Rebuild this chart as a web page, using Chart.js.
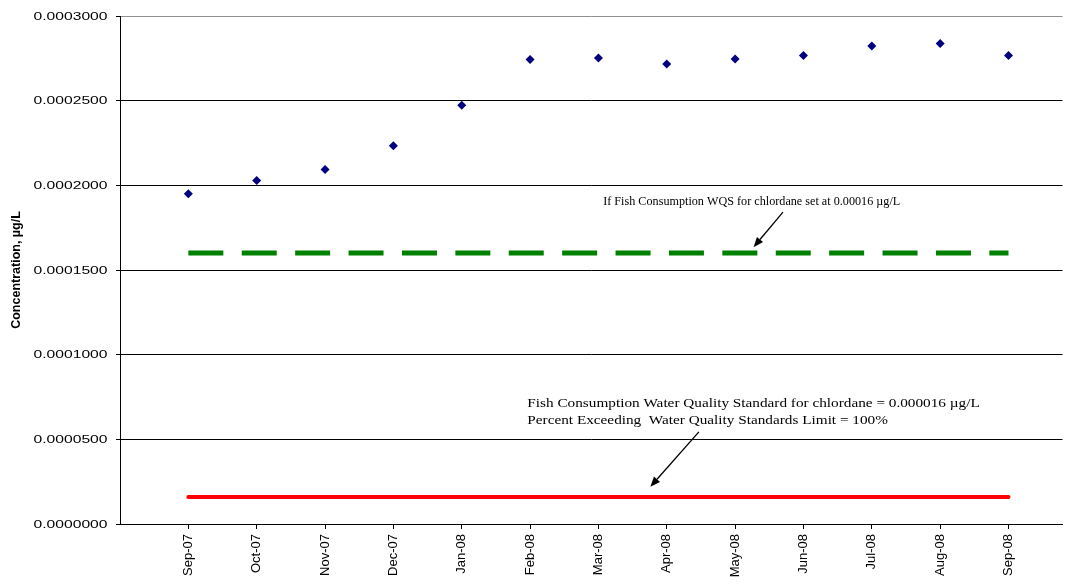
<!DOCTYPE html>
<html>
<head>
<meta charset="utf-8">
<script src="https://cdn.jsdelivr.net/npm/chart.js@4"></script>
<style>
html,body{margin:0;padding:0;background:#fff;}
#wrap{width:1067px;height:583px;position:relative;}
</style>
</head>
<body>
<div id="wrap"><canvas id="c" width="1067" height="583"></canvas></div>
<script>
const categories = ["Sep-07","Oct-07","Nov-07","Dec-07","Jan-08","Feb-08","Mar-08","Apr-08","May-08","Jun-08","Jul-08","Aug-08","Sep-08"];
const concentration = [0.0001951,0.0002029,0.0002093,0.0002234,0.0002473,0.0002743,0.0002752,0.0002716,0.0002746,0.0002767,0.0002823,0.0002837,0.0002767];
const wqsIf = 0.00016;
const wqs = 0.000016;
const yTicks = [0,0.00005,0.0001,0.00015,0.0002,0.00025,0.0003];
const yTickLabels = ["0.0000000","0.0000500","0.0001000","0.0001500","0.0002000","0.0002500","0.0003000"];

const idx = categories.map((_, i) => i);
const pts = idx.map(i => ({x: i, y: concentration[i]}));
const greenLine = [{x: 0, y: wqsIf}, {x: categories.length - 1, y: wqsIf}];
const redLine = [{x: 0, y: wqs}, {x: categories.length - 1, y: wqs}];

const annotations = [
  {lines: ["If Fish Consumption WQS for chlordane set at 0.00016 \u00b5g/L"], x: 6.07, y: 0.0001904, size: 12, stretch: 1.014,
   arrow: {from: [8.70, 0.0001842], to: [8.27, 0.0001635]}},
  {lines: ["Fish Consumption Water Quality Standard for chlordane = 0.000016 \u00b5g/L",
           "Percent Exceeding  Water Quality Standards Limit = 100%"], x: 4.96, y: 0.0000710, size: 12.5, lh: 17, stretch: 1.22,
   arrow: {from: [7.47, 0.0000544], to: [6.76, 0.0000220]}}
];

const annotPlugin = {
  id: 'annot',
  afterDatasetsDraw(chart) {
    const ctx = chart.ctx, xs = chart.scales.x, ys = chart.scales.y;
    ctx.save();
    ctx.fillStyle = '#000';
    ctx.font = '11.6px "Liberation Sans", Arial, sans-serif';
    ctx.textAlign = 'right';
    ctx.textBaseline = 'middle';
    yTicks.forEach((v, k) => {
      ctx.save();
      ctx.translate(107.5, ys.getPixelForValue(v));
      ctx.scale(1.35, 1);
      ctx.fillText(yTickLabels[k], 0, 0.5);
      ctx.restore();
    });
    annotations.forEach(a => {
      ctx.fillStyle = '#000';
      ctx.font = a.size + 'px "Liberation Serif", "Times New Roman", serif';
      ctx.textBaseline = 'middle';
      ctx.textAlign = 'left';
      const px = xs.getPixelForValue(a.x), py = ys.getPixelForValue(a.y);
      a.lines.forEach((l, k) => {
        ctx.save();
        ctx.translate(px, py + k * (a.lh || 0));
        ctx.scale(a.stretch, 1);
        ctx.fillText(l, 0, 0);
        ctx.restore();
      });
      const x1 = xs.getPixelForValue(a.arrow.from[0]), y1 = ys.getPixelForValue(a.arrow.from[1]);
      const x2 = xs.getPixelForValue(a.arrow.to[0]), y2 = ys.getPixelForValue(a.arrow.to[1]);
      const ang = Math.atan2(y2 - y1, x2 - x1);
      const hl = 10, hw = 4;
      const bx = x2 - hl * Math.cos(ang), by = y2 - hl * Math.sin(ang);
      ctx.strokeStyle = '#000'; ctx.lineWidth = 1.3;
      ctx.beginPath(); ctx.moveTo(x1, y1); ctx.lineTo(bx, by); ctx.stroke();
      ctx.beginPath();
      ctx.moveTo(x2, y2);
      ctx.lineTo(bx + hw * Math.sin(ang), by - hw * Math.cos(ang));
      ctx.lineTo(bx - hw * Math.sin(ang), by + hw * Math.cos(ang));
      ctx.closePath(); ctx.fill();
    });
    ctx.restore();
  }
};

new Chart(document.getElementById('c'), {
  type: 'scatter',
  data: {
    datasets: [
      {data: greenLine, showLine: true, borderColor: '#008000', borderWidth: 5, borderDash: [35, 18.4], borderCapStyle: 'butt', pointRadius: 0, order: 3},
      {data: redLine, showLine: true, borderColor: '#ff0000', borderWidth: 4, borderCapStyle: 'round', pointRadius: 0, order: 2},
      {data: pts, pointStyle: 'rectRot', pointRadius: 4.5, backgroundColor: '#000080', borderColor: '#000080', borderWidth: 0, order: 1}
    ]
  },
  options: {
    responsive: false,
    animation: false,
    events: [],
    layout: {padding: {top: 16, right: 0, left: 0, bottom: 0}},
    plugins: {legend: {display: false}, tooltip: {enabled: false}},
    scales: {
      x: {
        type: 'linear', min: -1, max: 12.79,
        afterBuildTicks: s => { s.ticks = idx.map(v => ({value: v})); },
        afterFit: s => { s.height = 59; },
        grid: {drawOnChartArea: false, drawTicks: true, tickLength: 5, color: '#000', tickColor: '#000'},
        border: {color: '#000', width: 1},
        ticks: {
          autoSkip: false, minRotation: 90, maxRotation: 90, padding: 5,
          color: '#000', font: {family: '"Liberation Sans", Arial, sans-serif', size: 13},
          callback: v => categories[v] ?? ''
        }
      },
      y: {
        min: 0, max: 0.0003,
        afterBuildTicks: s => { s.ticks = yTicks.map(v => ({value: v})); },
        afterFit: s => { s.width = 120; },
        grid: {color: ctx => (ctx.tick && ctx.tick.value === 0.0003) ? '#909090' : '#000', lineWidth: 1, tickLength: 4, tickColor: '#000'},
        border: {color: '#000', width: 1},
        title: {display: true, text: 'Concentration, \u00b5g/L', color: '#000', font: {family: '"Liberation Sans", Arial, sans-serif', size: 12.5, weight: 'bold'}, padding: {top: 9, bottom: 0}},
        ticks: {display: false}
      }
    }
  },
  plugins: [annotPlugin]
});
</script>
</body>
</html>
